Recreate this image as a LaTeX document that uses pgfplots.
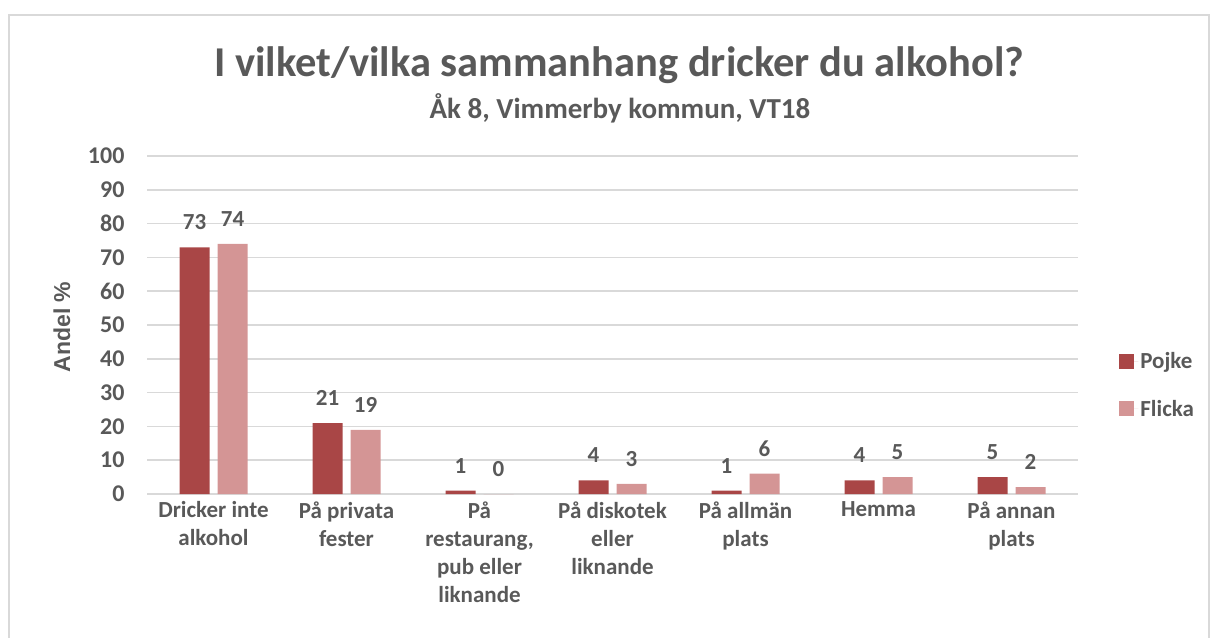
\documentclass[border=0pt]{standalone}
\usepackage{pgfplots}
\pgfplotsset{compat=1.18}
\usepackage{fontspec}
\setmainfont{Carlito}
\newfontfamily\arialfont{Liberation Sans}
\definecolor{pojke}{RGB}{169,70,70}
\definecolor{flicka}{RGB}{212,149,149}
\definecolor{txt}{RGB}{89,89,89}
\definecolor{gridc}{RGB}{217,217,217}
\pgfplotstableread{
x pojke flicka
0 73 74
1 21 19
2 1 0
3 4 3
4 1 6
5 4 5
6 5 2
}\datatable
\begin{document}
\begin{tikzpicture}[x=1pt,y=1pt]
\useasboundingbox (0,0) rectangle (1217,637);
\draw[gridc, line width=2pt] (9,-10) rectangle (1209,622);
\node[txt, font=\fontsize{42.5}{50}\selectfont\bfseries] at (619,572) {I vilket/vilka sammanhang dricker du alkohol?};
\node[txt, font=\fontsize{29}{34}\selectfont\bfseries] at (620,529) {Åk 8, Vimmerby kommun, VT18};
\begin{axis}[
  at={(147pt,143pt)}, anchor=south west,
  scale only axis, width=931pt, height=338pt,
  xmin=-0.5, xmax=6.5, ymin=0, ymax=100,
  ybar=8pt, bar width=30pt,
  axis x line*=bottom, axis y line*=left,
  x axis line style={gridc, line width=1.5pt, -},
  y axis line style={draw=none},
  ytick={0,10,...,100},
  ymajorgrids, grid style={gridc, line width=1.5pt},
  major tick length=0pt,
  xtick=data,
  xticklabels={{Dricker inte\\alkohol},{På privata\\fester},{På\\restaurang,\\pub eller\\liknande},{På diskotek\\eller\\liknande},{På allmän\\plats},{Hemma},{På annan\\plats}},
  xticklabel style={align=center, text=txt, font=\fontsize{23}{28}\selectfont\bfseries, yshift=-4pt},
  yticklabel style={text=txt, font=\fontsize{24}{28}\selectfont\bfseries, xshift=-19pt},
  /pgf/number format/assume math mode=true,
  nodes near coords,
  every node near coord/.append style={anchor=center, yshift=25pt, text=txt, font=\fontsize{23}{28}\selectfont\bfseries},
  legend style={at={(1.041,0.322)}, anchor=west, draw=none, fill=none, row sep=26pt, font=\fontsize{23}{28}\selectfont\bfseries, text=txt},
  legend cell align=left,
  legend image code/.code={\path[#1, draw=none] (0pt,-7.5pt) rectangle (15pt,7.5pt); \path (0pt,0pt) -- (19pt,0pt);},
  clip=false,
]
\addplot[fill=pojke, draw=none] table[x=x, y=pojke] {\datatable};
\addplot[fill=flicka, draw=none] table[x=x, y=flicka] {\datatable};
\legend{Pojke, Flicka}
\end{axis}
\node[txt, rotate=90, font=\arialfont\fontsize{23}{27}\selectfont\bfseries] at (62,310) {Andel \%};
\end{tikzpicture}
\end{document}
